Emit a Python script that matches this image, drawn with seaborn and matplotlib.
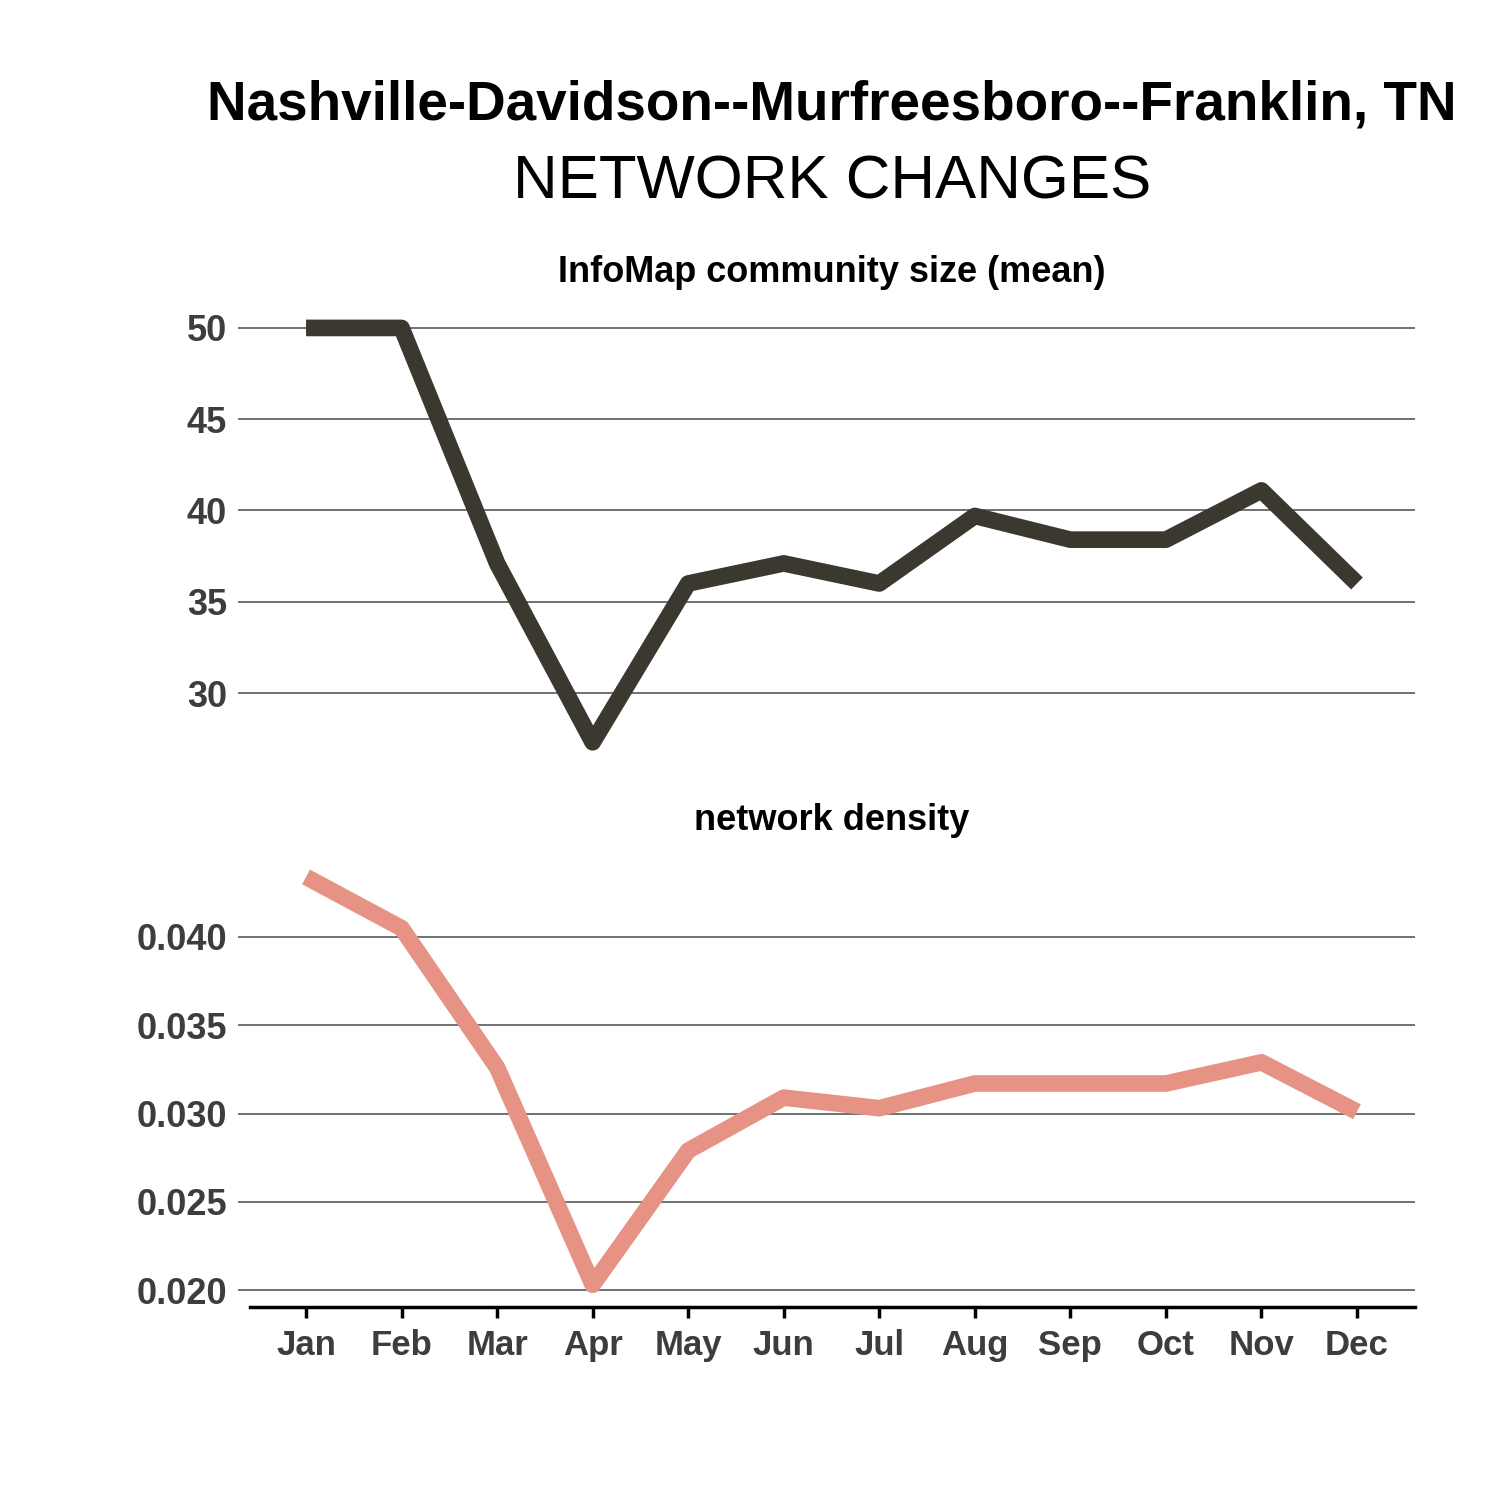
import numpy as np
import pandas as pd
import matplotlib
matplotlib.use("Agg")
import matplotlib.pyplot as plt
import seaborn as sns

months = ["Jan", "Feb", "Mar", "Apr", "May", "Jun",
          "Jul", "Aug", "Sep", "Oct", "Nov", "Dec"]
community_size = [50.0, 50.0, 37.1, 27.3, 36.0, 37.1,
                  36.0, 39.7, 38.4, 38.4, 41.1, 36.0]
density = [0.0434, 0.0405, 0.0326, 0.0203, 0.0279, 0.0309,
           0.0303, 0.0317, 0.0317, 0.0317, 0.0329, 0.0301]

TITLE = "Nashville-Davidson--Murfreesboro--Franklin, TN"
SUBTITLE = "NETWORK CHANGES"

DARK = "#3b3830"
SALMON = "#e69385"
TICK_GREY = "#3d3d3d"


def main():
    sns.set_style("white")
    plt.rcParams["font.family"] = ["Liberation Sans", "DejaVu Sans"]

    df = pd.DataFrame({
        "month": np.arange(len(months)),
        "size": community_size,
        "density": density,
    })

    fig = plt.figure(figsize=(15, 15), dpi=100)
    W = 1500.0

    def px_axes(left, top, right, bottom):
        return fig.add_axes([left / W, 1 - bottom / W,
                             (right - left) / W, (bottom - top) / W])

    ax_top = px_axes(238, 300, 1415, 760)
    ax_bot = px_axes(238, 860, 1415, 1307)

    sns.lineplot(data=df, x="month", y="size", ax=ax_top, color=DARK,
                 lw=12, solid_capstyle="butt", solid_joinstyle="round")
    sns.lineplot(data=df, x="month", y="density", ax=ax_bot, color=SALMON,
                 lw=12, solid_capstyle="butt", solid_joinstyle="round")

    xlim = (-0.712, 11.607)
    for ax in (ax_top, ax_bot):
        ax.set_xlim(xlim)
        ax.set_xlabel("")
        ax.set_ylabel("")
        ax.grid(axis="y", color="#4a4a4a", lw=1.1)
        ax.grid(axis="x", visible=False)
        ax.set_axisbelow(True)
        for s in ("top", "right", "left", "bottom"):
            ax.spines[s].set_visible(False)
        ax.tick_params(axis="y", left=False, length=0, pad=8, labelsize=26,
                       labelcolor=TICK_GREY)

    ax_top.set_ylim(26.33, 51.53)
    ax_top.set_yticks([30, 35, 40, 45, 50])
    ax_top.set_yticklabels(["30", "35", "40", "45", "50"],
                           fontweight="bold")
    ax_top.set_xticks([])

    ax_bot.set_ylim(0.01904, 0.04436)
    ax_bot.set_yticks([0.020, 0.025, 0.030, 0.035, 0.040])
    ax_bot.set_yticklabels(["0.020", "0.025", "0.030", "0.035", "0.040"],
                           fontweight="bold")
    ax_bot.set_xticks(df["month"])
    ax_bot.set_xticklabels(months, fontweight="bold")
    ax_bot.tick_params(axis="x", bottom=True, direction="out", length=8,
                       width=2.5, color="black", pad=8,
                       labelsize=25, labelcolor=TICK_GREY)
    ax_bot.spines["bottom"].set_visible(True)
    ax_bot.spines["bottom"].set_color("black")
    ax_bot.spines["bottom"].set_linewidth(2.5)
    ax_bot.spines["bottom"].set_bounds(-0.586, xlim[1])

    fig.text(832 / W, 1 - 105 / W, TITLE, ha="center", va="center",
             fontsize=39.5, fontweight="bold", color="black")
    fig.text(832 / W, 1 - 183 / W, SUBTITLE, ha="center", va="center",
             fontsize=44.5, color="black")
    fig.text(832 / W, 1 - 273 / W, "InfoMap community size (mean)",
             ha="center", va="center", fontsize=26, fontweight="bold",
             color="black")
    fig.text(832 / W, 1 - 820 / W, "network density",
             ha="center", va="center", fontsize=26, fontweight="bold",
             color="black")

    fig.savefig("out.png", dpi=100, facecolor="white")


if __name__ == "__main__":
    main()
